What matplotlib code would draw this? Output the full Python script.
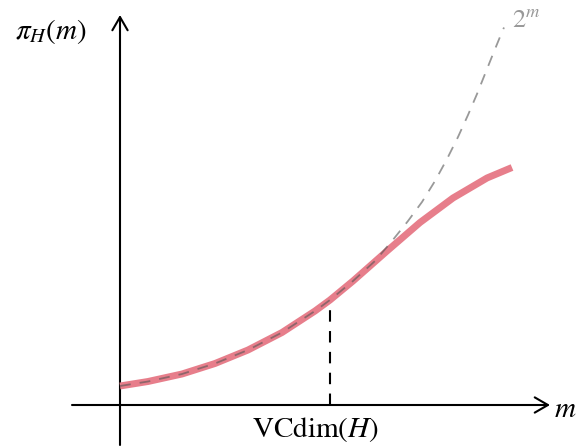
import numpy as np
import matplotlib.pyplot as plt

plt.rcParams['mathtext.fontset'] = 'stix'
plt.rcParams['font.family'] = 'STIXGeneral'

# growth function (red)
m_growth = [0.00, 0.56, 1.24, 1.90, 2.56, 3.24, 3.90, 4.20, 4.66, 5.34, 6.00, 6.66, 7.34, 7.84]
pi_growth = [0.38, 0.47, 0.62, 0.83, 1.10, 1.45, 1.88, 2.10, 2.48, 3.08, 3.65, 4.14, 4.54, 4.75]

# 2^m bound (gray dashed)
m_exp = [0.00, 0.56, 1.24, 1.90, 2.56, 3.24, 3.90, 4.20, 4.66, 5.10, 5.44, 5.76, 6.04,
         6.30, 6.54, 6.76, 6.96, 7.14, 7.30, 7.46, 7.64, 7.68]
pi_exp = [0.38, 0.47, 0.62, 0.83, 1.10, 1.45, 1.88, 2.10, 2.48, 2.88, 3.28, 3.68, 4.06,
          4.48, 4.92, 5.36, 5.80, 6.22, 6.62, 7.02, 7.46, 7.55]

vcdim = 4.2

fig = plt.figure(figsize=(5.79, 4.46), dpi=100)
ax = fig.add_axes([0, 0, 1, 1])
ax.set_xlim(-2.4, 9.18)
ax.set_ylim(-0.82, 8.1)
ax.axis('off')

# axes with open arrow heads
arrow = dict(arrowstyle='->,head_length=0.95,head_width=0.55', lw=1.5, color='black',
             shrinkA=0, shrinkB=0)
ax.annotate('', xy=(8.6, 0), xytext=(-0.96, 0), arrowprops=arrow)
ax.annotate('', xy=(0, 7.8), xytext=(0, -0.8), arrowprops=arrow)

ax.plot(m_growth, pi_growth, color='#e77e8b', lw=5, solid_capstyle='butt',
        solid_joinstyle='round', zorder=3)
ax.plot(m_exp, pi_exp, color='#555555', lw=1.3, ls=(0, (6, 5)), alpha=0.6, zorder=4)

top = np.interp(vcdim, m_growth, pi_growth)
ax.plot([vcdim, vcdim], [0, top], color='black', lw=1.5, ls=(0, (5.5, 4.5)), zorder=2)

ax.text(-1.38, 7.47, r'$\pi_H(m)$', fontsize=21, ha='center', va='center')
ax.text(3.9, -0.5, r'VCdim$(H)$', fontsize=21, ha='center', va='center')
ax.text(8.9, -0.1, r'$m$', fontsize=21, ha='center', va='center')
ax.text(7.84, 7.68, r'$2^m$', fontsize=19, ha='left', va='center', color='#999999')

fig.savefig('out.png', dpi=100)
